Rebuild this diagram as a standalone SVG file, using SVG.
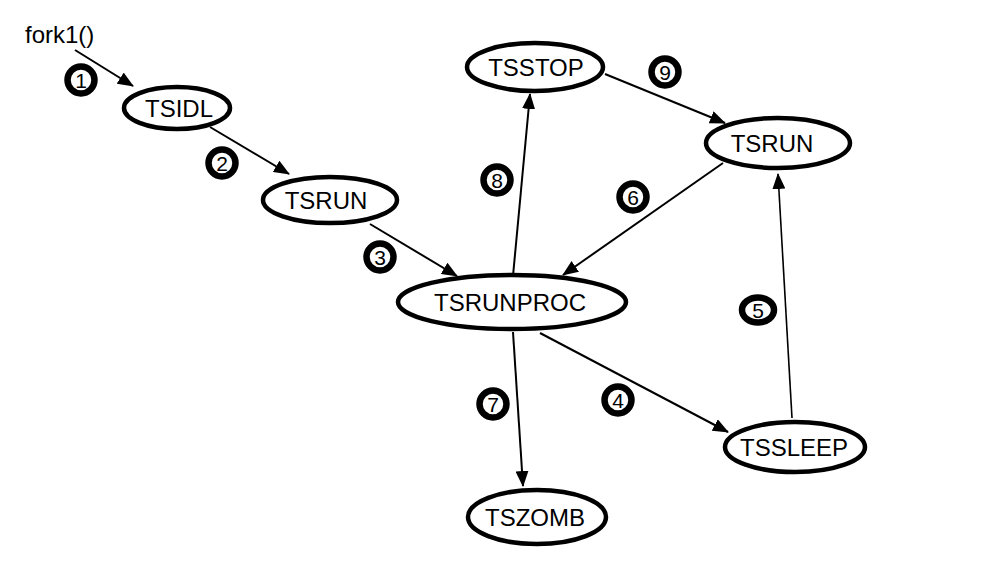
<svg xmlns="http://www.w3.org/2000/svg" width="984" height="584" viewBox="0 0 984 584">
<defs>
<marker id="ah" viewBox="0 0 16 13" refX="15" refY="6.5" markerWidth="16" markerHeight="13" markerUnits="userSpaceOnUse" orient="auto">
<path d="M0,0 L16,6.5 L0,13 Z" fill="#000"/>
</marker>
<style>
.node ellipse{fill:#fff;stroke:#000;stroke-width:4.5}
.lbl{font-family:"Liberation Sans",Arial,sans-serif;font-size:24px;fill:#000;text-anchor:middle}
.badge ellipse{fill:#fff;stroke:#000;stroke-width:6.5}
.num{font-family:"Liberation Sans",Arial,sans-serif;font-size:21px;fill:#000;text-anchor:middle}
.edge{stroke:#000;stroke-width:2;fill:none;marker-end:url(#ah)}
</style>
</defs>
<rect width="984" height="584" fill="#fff"/>
<text x="25" y="43" font-family="Liberation Sans, Arial, sans-serif" font-size="24" fill="#000">fork1()</text>
<g id="connectors">
<line class="edge" x1="75" y1="50" x2="133" y2="86"/>
<line class="edge" x1="210" y1="127" x2="289" y2="174"/>
<line class="edge" x1="370" y1="224" x2="457" y2="276"/>
<line class="edge" x1="540" y1="333" x2="728" y2="432"/>
<line class="edge" x1="792" y1="418" x2="778" y2="174" style="stroke-width:1.6"/>
<line class="edge" x1="723" y1="163" x2="563" y2="275"/>
<line class="edge" x1="513" y1="332" x2="523" y2="486"/>
<line class="edge" x1="513" y1="276" x2="530" y2="94"/>
<line class="edge" x1="605" y1="74" x2="725" y2="123"/>
</g>
<g id="n-tsidl" class="node"><ellipse cx="177" cy="108" rx="53" ry="21"/><text class="lbl" x="179" y="117">TSIDL</text></g>
<g id="n-tsrun1" class="node"><ellipse cx="330" cy="200" rx="67" ry="23"/><text class="lbl" x="326" y="209">TSRUN</text></g>
<g id="n-tsrunproc" class="node"><ellipse cx="512" cy="302" rx="114" ry="27"/><text class="lbl" x="510" y="311">TSRUNPROC</text></g>
<g id="n-tsstop" class="node"><ellipse cx="535" cy="67" rx="68" ry="24"/><text class="lbl" x="536" y="76">TSSTOP</text></g>
<g id="n-tsrun2" class="node"><ellipse cx="778" cy="143" rx="72" ry="25"/><text class="lbl" x="772" y="152">TSRUN</text></g>
<g id="n-tssleep" class="node"><ellipse cx="795" cy="447" rx="70" ry="25"/><text class="lbl" x="794" y="456">TSSLEEP</text></g>
<g id="n-tszomb" class="node"><ellipse cx="537" cy="517" rx="69" ry="27"/><text class="lbl" x="535" y="526">TSZOMB</text></g>
<g id="badges">
<g id="b1" class="badge"><ellipse cx="81" cy="80" rx="13.5" ry="13.5"/><text class="num" x="81" y="87.5">1</text></g>
<g id="b2" class="badge"><ellipse cx="222" cy="163" rx="13.5" ry="13.5"/><text class="num" x="222" y="170.5">2</text></g>
<g id="b3" class="badge"><ellipse cx="380" cy="257" rx="13.5" ry="13.5"/><text class="num" x="380" y="264.5">3</text></g>
<g id="b4" class="badge"><ellipse cx="618" cy="400" rx="13.5" ry="13.5"/><text class="num" x="618" y="407.5">4</text></g>
<g id="b5" class="badge"><ellipse cx="758" cy="310" rx="16" ry="12.5"/><text class="num" x="758" y="317.5">5</text></g>
<g id="b6" class="badge"><ellipse cx="633" cy="197" rx="13.5" ry="13.5"/><text class="num" x="633" y="204.5">6</text></g>
<g id="b7" class="badge"><ellipse cx="493" cy="404" rx="13.5" ry="13.5"/><text class="num" x="493" y="411.5">7</text></g>
<g id="b8" class="badge"><ellipse cx="497" cy="180" rx="13.5" ry="13.5"/><text class="num" x="497" y="187.5">8</text></g>
<g id="b9" class="badge"><ellipse cx="665" cy="72" rx="13.5" ry="13.5"/><text class="num" x="665" y="79.5">9</text></g>
</g>
</svg>
